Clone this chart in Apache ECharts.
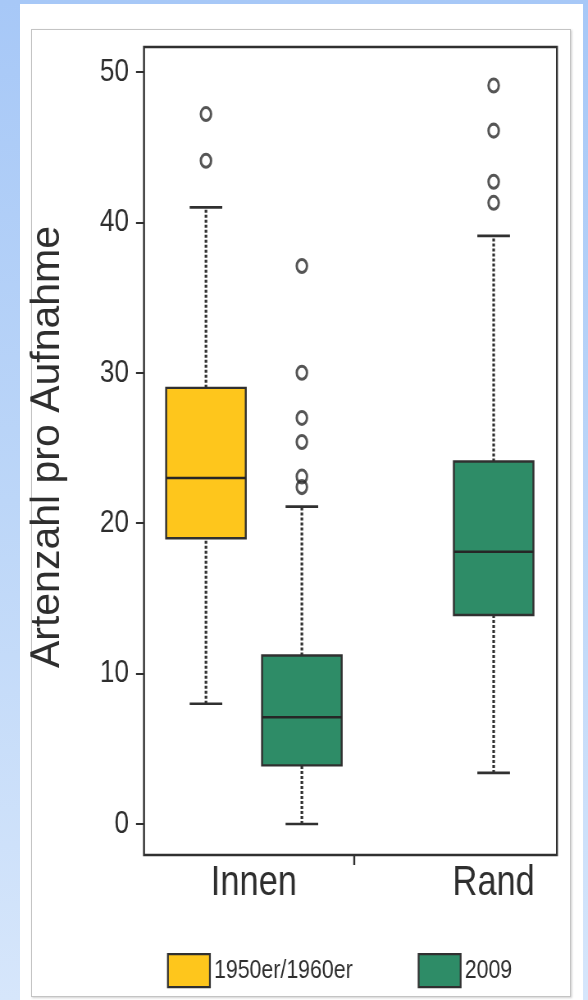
<!DOCTYPE html>
<html>
<head>
<meta charset="utf-8">
<script src="https://cdn.jsdelivr.net/npm/echarts@6/dist/echarts.min.js"></script>
<style>
  html, body { margin: 0; padding: 0; }
  body { width: 588px; height: 1000px; position: relative; overflow: hidden;
         background: linear-gradient(to bottom, #a7c8f7 0%, #bcd6f8 50%, #d6e6fb 100%); }
  #panel { position: absolute; left: 20px; top: 4px; width: 563px; height: 996px; background: #ffffff; }
  #frame { position: absolute; left: 31px; top: 29px; width: 538px; height: 966px; border: 1px solid #c4c4c4; box-shadow: 1px 1px 2px #d0d0d0; }
  /* the reference image is horizontally condensed; the chart is laid out wider and condensed the same way */
  #chart { position: absolute; left: 0; top: 0; width: 717px; height: 1000px; transform: scaleX(0.82); transform-origin: 0 0; }
</style>
</head>
<body>
<div id="panel"></div>
<div id="frame"></div>
<div id="chart"></div>
<script>
// ---- data ----
const categories = ['Innen', 'Rand'];
const seriesNames = ['1950er/1960er', '2009'];
const yTicks = [0, 10, 20, 30, 40, 50];
const yTitle = 'Artenzahl pro Aufnahme';
// box stats: [low whisker, Q1, median, Q3, high whisker] per category
const stats1950 = [[8, 19, 23, 29, 41], null];
const stats2009 = [[0, 3.9, 7.1, 11.2, 21.1], [3.4, 13.9, 18.1, 24.1, 39.1]];
const outliers1950 = [[44.1, 47.2], []];
const outliers2009 = [[22.4, 23.1, 25.4, 27.0, 30.0, 37.1], [41.3, 42.7, 46.1, 49.1]];

const S = 0.82; // horizontal condensation of the whole picture
const colors = ['#fec61c', '#2e8c67'];
const catCenter = [1.5, 4];             // positions of category groups on the x value axis
const dodge = [[-0.5, 0.5], [null, 0]];  // x offsets per category for each series

function boxData(stats, sIdx) {
  const out = [];
  stats.forEach((s, c) => { if (s) out.push([catCenter[c] + dodge[c][sIdx]].concat(s)); });
  return out;
}
function outlierData(outs, sIdx) {
  const out = [];
  outs.forEach((arr, c) => arr.forEach(v => out.push([catCenter[c] + dodge[c][sIdx], v])));
  return out;
}

const font = "'Liberation Sans', Arial, sans-serif";
const ink = '#303030';
const txt = '#2e2e2e';
const BOX_W = 0.83, CAP_W = 0.34;

function renderBox(params, api) {
  const x = api.value(0);
  const low = api.coord([x, api.value(1)]);
  const q1 = api.coord([x, api.value(2)]);
  const med = api.coord([x, api.value(3)]);
  const q3 = api.coord([x, api.value(4)]);
  const high = api.coord([x, api.value(5)]);
  const hw = api.size([BOX_W, 0])[0] / 2;
  const cw = api.size([CAP_W, 0])[0] / 2;
  const fill = api.visual('color');
  const dash = { stroke: ink, lineWidth: 3.2, lineDash: [3, 2] };
  const solid = { stroke: ink, lineWidth: 2.6 };
  return {
    type: 'group',
    children: [
      { type: 'line', shape: { x1: q3[0], y1: q3[1], x2: high[0], y2: high[1] }, style: dash },
      { type: 'line', shape: { x1: low[0], y1: low[1], x2: q1[0], y2: q1[1] }, style: dash },
      { type: 'line', shape: { x1: high[0] - cw, y1: high[1], x2: high[0] + cw, y2: high[1] }, style: solid },
      { type: 'line', shape: { x1: low[0] - cw, y1: low[1], x2: low[0] + cw, y2: low[1] }, style: solid },
      { type: 'rect', shape: { x: q3[0] - hw, y: q3[1], width: hw * 2, height: q1[1] - q3[1] },
        style: { fill: fill, stroke: ink, lineWidth: 2.4 } },
      { type: 'line', shape: { x1: med[0] - hw, y1: med[1], x2: med[0] + hw, y2: med[1] }, style: { stroke: '#262626', lineWidth: 2.6 } }
    ]
  };
}

const outlierStyle = { color: 'rgba(255,255,255,0)', borderColor: '#2a2a2a', borderWidth: 3 };

const chart = echarts.init(document.getElementById('chart'), null, { renderer: 'canvas' });
chart.setOption({
  backgroundColor: 'transparent',
  animation: false,
  grid: { left: 144 / S, right: 31 / S, top: 47, bottom: 145, show: true, borderColor: ink, borderWidth: 2.4, backgroundColor: 'transparent' },
  xAxis: {
    type: 'value', min: 0.354, max: 4.66,
    splitLine: { show: false },
    axisLine: { show: false, onZero: false },
    axisTick: { show: true, customValues: [2.54], length: 10, lineStyle: { color: ink, width: 2.4 } },
    axisLabel: { customValues: catCenter, formatter: v => categories[catCenter.indexOf(v)] || '',
      fontFamily: font, fontSize: 42, color: txt, margin: 7 }
  },
  yAxis: {
    type: 'value', min: -2.06, max: 51.66,
    splitLine: { show: false },
    axisLine: { show: false },
    axisTick: { show: true, customValues: yTicks, length: 8 / S, lineStyle: { color: ink, width: 2 } },
    axisLabel: { customValues: yTicks, fontFamily: font, fontSize: 32, color: txt, margin: 15 / S }
  },
  graphic: [{
    type: 'text', x: 48 / S, y: 447, rotation: Math.PI / 2, scaleY: 1 / S,
    style: { text: yTitle, font: '41px ' + font, fill: txt, align: 'center', verticalAlign: 'middle' }
  }],
  legend: {
    left: 167 / S, top: 953, padding: 0, itemWidth: 42 / S, itemHeight: 33, itemGap: 65 / S,
    textStyle: { fontFamily: font, fontSize: 26, color: txt },
    selectedMode: false,
    data: seriesNames.map((n, i) => ({ name: n, icon: 'rect', itemStyle: { color: colors[i], borderColor: ink, borderWidth: 2.2 } }))
  },
  series: [
    { name: seriesNames[0], type: 'custom', renderItem: renderBox, data: boxData(stats1950, 0),
      itemStyle: { color: colors[0] }, encode: { x: 0, y: [1, 2, 3, 4, 5] }, clip: false, z: 3 },
    { name: seriesNames[1], type: 'custom', renderItem: renderBox, data: boxData(stats2009, 1),
      itemStyle: { color: colors[1] }, encode: { x: 0, y: [1, 2, 3, 4, 5] }, clip: false, z: 3 },
    { type: 'scatter', data: outlierData(outliers1950, 0), symbol: 'circle', symbolSize: [12.5, 13],
      itemStyle: outlierStyle, z: 4 },
    { type: 'scatter', data: outlierData(outliers2009, 1), symbol: 'circle', symbolSize: [12.5, 13],
      itemStyle: outlierStyle, z: 4 }
  ]
});
</script>
</body>
</html>
